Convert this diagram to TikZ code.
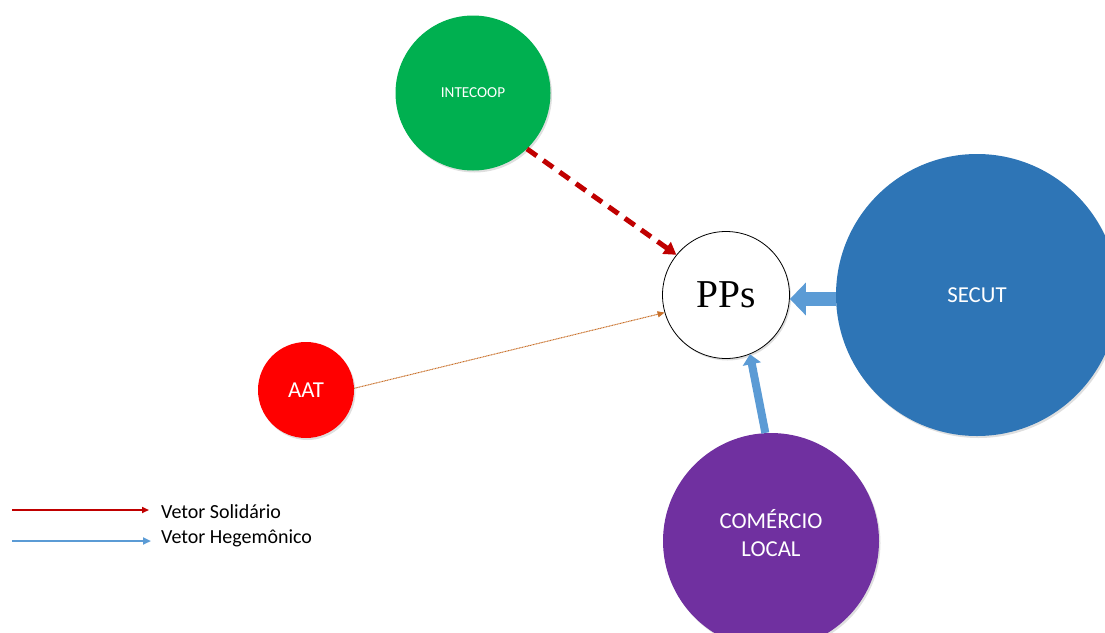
\documentclass[tikz,border=0pt]{standalone}
\usepackage{fontspec}
\setmainfont{Carlito}
\newfontfamily\ppsfont{Liberation Serif}
\usetikzlibrary{arrows.meta,shadows}

\definecolor{verdeInt}{HTML}{00B050}
\definecolor{vermAat}{HTML}{FF0000}
\definecolor{azulSecut}{HTML}{2E75B6}
\definecolor{roxoCom}{HTML}{7030A0}
\definecolor{azulVetor}{HTML}{5B9BD5}
\definecolor{vermVetor}{HTML}{C00000}
\definecolor{laranjaVetor}{HTML}{C8702A}

\begin{document}
\begin{tikzpicture}[
  x=1pt,
  y=-1pt,
  every node/.style={font=\fontsize{22.8}{28}\selectfont},
  ator/.style={circle, inner sep=0pt, text=white,
    drop shadow={opacity=0.25, shadow xshift=1.5pt, shadow yshift=-2pt}},
  solidario/.style={vermVetor, line width=5pt, dash pattern=on 12pt off 8pt,
    -{Triangle[length=12pt,width=14pt]}},
  hegemonico/.style={azulVetor, -{Triangle[length=16pt,width=32pt]}},
  fraco/.style={laranjaVetor, line width=1pt, dash pattern=on 1pt off 0.6pt,
    -{Triangle[length=7pt,width=6pt]}}
]
  \useasboundingbox (0,0) rectangle (1105,632);

  % Actors.
  \node[ator, fill=verdeInt, minimum size=155pt, font=\fontsize{15.2}{18}\selectfont]
    (intecoop) at (473,93) {INTECOOP};
  \node[ator, fill=azulSecut, minimum size=282pt] (secut) at (977,295) {SECUT};
  \node[ator, fill=vermAat, minimum size=96pt] (aat) at (306,390) {AAT};
  \node[ator, fill=roxoCom, minimum size=216pt] (comercio) at (771,541) {};
  \node[text=white, align=center] (comercioTxt) at ([yshift=8pt]comercio.center)
    {COMÉRCIO\\LOCAL};
  \node[ator, fill=white, draw=black, line width=0.8pt, text=black, minimum size=127pt,
    font=\ppsfont\fontsize{39.5}{44}\selectfont] (pps) at (726,295) {PPs};

  % Vectors.
  \draw[solidario] (intecoop.-46) -- (pps.141);
  \draw[fraco] (aat.2) -- (pps.196);
  \draw[hegemonico, line width=14pt] ([yshift=-4pt]secut.west) -- ([yshift=-4pt]pps.east);
  \draw[azulVetor, line width=8pt, -{Triangle[length=10pt,width=18pt]}]
    (comercio.93) -- (pps.-68);

  % Legend.
  \coordinate (solA) at (12,510);
  \coordinate (solB) at (149,510);
  \coordinate (hegA) at (12,541);
  \coordinate (hegB) at (151,541);
  \draw[vermVetor, line width=1.6pt, -{Triangle[length=7pt,width=6pt]}] (solA) -- (solB);
  \draw[azulVetor, line width=2.5pt, -{Triangle[length=8pt,width=7pt]}] (hegA) -- (hegB);
  \node[anchor=base west, inner sep=0pt, font=\fontsize{20}{24}\selectfont]
    (solTxt) at (161,518) {Vetor Solidário};
  \node[anchor=base west, inner sep=0pt, font=\fontsize{20}{24}\selectfont]
    (hegTxt) at (161,543) {Vetor Hegemônico};
\end{tikzpicture}
\end{document}
